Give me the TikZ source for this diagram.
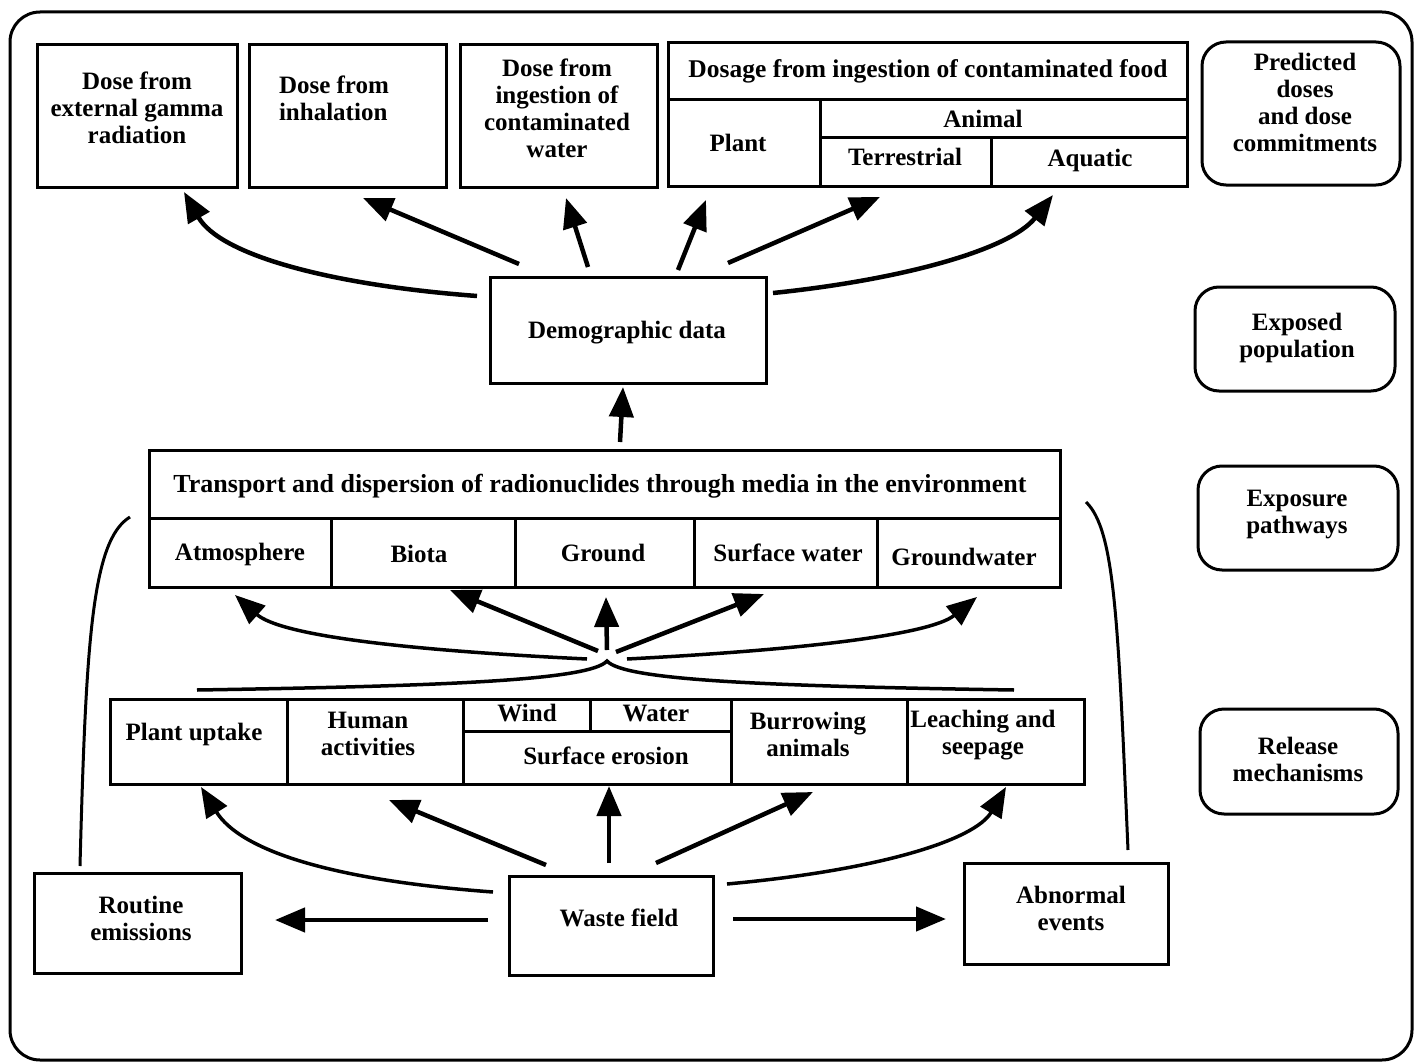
\documentclass[tikz,border=0pt]{standalone}
\usepackage{fontspec}
\setmainfont{Liberation Serif}
\usetikzlibrary{arrows.meta}
\newcommand{\boxat}[6][]{\node[box,#1,minimum width={(#5)-(#3)},minimum height={(#6)-(#4)}] (#2) at ({((#3)+(#5))/2},{((#4)+(#6))/2}) {};}
\begin{document}
\begin{tikzpicture}[x=1pt,y=-1pt,
  box/.style={draw,line width=3pt,inner sep=0pt,outer sep=0pt},
  rbox/.style={rounded corners=24pt},
  lbl/.style={font=\fontsize{25}{27}\selectfont\bfseries,align=center,inner sep=0pt},
  arr/.style={line width=4.5pt,-{Triangle[length=30pt,width=24pt]}},
  ln/.style={line width=3pt}]
\useasboundingbox (0,0) rectangle (1414,1062);
\draw[ln,rounded corners=30pt] (10,12) rectangle (1412,1060);
% top row
\boxat{b1}{37}{45}{237}{187}
\boxat{b2}{249}{45}{446}{187}
\boxat{b3}{460}{45}{657}{187}
\boxat{foodt}{668}{43}{1187}{100}
\boxat{plant}{668}{100}{820}{186}
\boxat{animal}{820}{100}{1187}{138}
\boxat{terr}{820}{138}{991}{186}
\boxat{aqua}{991}{138}{1187}{186}
\boxat[rbox]{pred}{1202}{42}{1400}{185}
\node[lbl] (tb1) at (137,108) {Dose from\\external gamma\\radiation};
\node[lbl,align=left] (tb2) at (334,98) {Dose from\\inhalation};
\node[lbl] (tb3) at (557,108) {Dose from\\ingestion of\\contaminated\\water};
\node[lbl,font=\fontsize{25.5}{27}\selectfont\bfseries] (tfood) at (928,71) {Dosage from ingestion of contaminated food};
\node[lbl] (tplant) at (738,143) {Plant};
\node[lbl] (tanimal) at (983,119) {Animal};
\node[lbl] (tterr) at (905,157) {Terrestrial};
\node[lbl] (taqua) at (1090,160) {Aquatic};
\node[lbl] (tpred) at (1305,102) {Predicted\\doses\\and dose\\commitments};
% demographic
\boxat{demo}{490}{277}{766}{383}
\node[lbl] (tdemo) at (627,333) {Demographic data};
\boxat[rbox]{expo}{1195}{287}{1395}{391}
\node[lbl] (texpo) at (1297,338) {Exposed\\population};
% transport
\boxat{trans}{149}{450}{1060}{518}
\boxat{atm}{149}{518}{331}{587}
\boxat{biota}{331}{518}{515}{587}
\boxat{ground}{515}{518}{694}{587}
\boxat{surf}{694}{518}{877}{587}
\boxat{gw}{877}{518}{1060}{587}
\boxat[rbox]{path}{1198}{466}{1398}{570}
\node[lbl,font=\fontsize{26}{27}\selectfont\bfseries] (ttrans) at (600,486) {Transport and dispersion of radionuclides through media in the environment};
\node[lbl] (tatm) at (240,554) {Atmosphere};
\node[lbl] (tbiota) at (419,554) {Biota};
\node[lbl] (tground) at (603,553) {Ground};
\node[lbl] (tsurf) at (788,553) {Surface water};
\node[lbl] (tgw) at (964,557) {Groundwater};
\node[lbl] (tpath) at (1297,515) {Exposure\\pathways};
% release
\boxat{pu}{110}{699}{287}{784}
\boxat{ha}{287}{699}{463}{784}
\boxat{wind}{463}{699}{590}{731}
\boxat{water}{590}{699}{731}{731}
\boxat{se}{463}{731}{731}{784}
\boxat{ba}{731}{699}{907}{784}
\boxat{ls}{907}{699}{1084}{784}
\boxat[rbox]{rel}{1200}{709}{1398}{814}
\node[lbl] (tpu) at (194,734) {Plant uptake};
\node[lbl] (tha) at (368,734) {Human\\activities};
\node[lbl] (twind) at (527,713) {Wind};
\node[lbl] (twater) at (656,713) {Water};
\node[lbl] (tse) at (606,756) {Surface erosion};
\node[lbl] (tba) at (808,734) {Burrowing\\animals};
\node[lbl] (tls) at (983,735) {Leaching and\\seepage};
\node[lbl] (trel) at (1298,759) {Release\\mechanisms};
% bottom
\boxat{re}{34}{873}{241}{973}
\boxat{wf}{509}{876}{713}{975}
\boxat{ab}{964}{863}{1168}{964}
\node[lbl] (tre) at (141,918) {Routine\\emissions};
\node[lbl] (twf) at (619,918) {Waste field};
\node[lbl] (tab) at (1071,908) {Abnormal\\events};
% connectors: demographic -> doses
\coordinate (a1s) at (477,296); \coordinate (a1e) at (184,192);
\coordinate (a2s) at (519,264); \coordinate (a2e) at (363,198);
\coordinate (a3s) at (588,267); \coordinate (a3e) at (566,198);
\coordinate (a4s) at (678,270); \coordinate (a4e) at (706,200);
\coordinate (a5s) at (728,263); \coordinate (a5e) at (880,197);
\coordinate (a6s) at (773,293); \coordinate (a6e) at (1053,195);
\draw[arr] (a1s) .. controls (330,285) and (220,255) .. (a1e);
\draw[arr] (a2s) -- (a2e);
\draw[arr] (a3s) -- (a3e);
\draw[arr] (a4s) -- (a4e);
\draw[arr] (a5s) -- (a5e);
\draw[arr] (a6s) .. controls (900,280) and (1010,250) .. (a6e);
% transport -> demographic
\coordinate (a7s) at (620,442); \coordinate (a7e) at (623,387);
\draw[arr] (a7s) -- (a7e);
% fan to transport media
\coordinate (f1s) at (587,659); \coordinate (f1e) at (235,595);
\coordinate (f2s) at (598,651); \coordinate (f2e) at (450,590);
\coordinate (f3s) at (607,650); \coordinate (f3e) at (606,597);
\coordinate (f4s) at (616,652); \coordinate (f4e) at (764,594);
\coordinate (f5s) at (627,659); \coordinate (f5e) at (977,597);
\draw[arr,line width=3.5pt] (f1s) .. controls (400,650) and (280,635) .. (f1e);
\draw[arr] (f2s) -- (f2e);
\draw[arr] (f3s) -- (f3e);
\draw[arr] (f4s) -- (f4e);
\draw[arr,line width=3.5pt] (f5s) .. controls (800,650) and (930,635) .. (f5e);
\coordinate (fl) at (197,690); \coordinate (fa) at (607,661); \coordinate (fr) at (1014,690);
\draw[line width=3.5pt] (fl) .. controls (450,686) and (590,680) .. (fa) .. controls (624,680) and (760,686) .. (fr);
% waste field -> release mechanisms
\coordinate (g1s) at (493,892); \coordinate (g1e) at (201,787);
\coordinate (g2s) at (546,865); \coordinate (g2e) at (389,800);
\coordinate (g3s) at (609,863); \coordinate (g3e) at (609,786);
\coordinate (g4s) at (656,863); \coordinate (g4e) at (813,792);
\coordinate (g5s) at (727,884); \coordinate (g5e) at (1006,787);
\coordinate (g6s) at (488,920); \coordinate (g6e) at (275,920);
\coordinate (g7s) at (733,919); \coordinate (g7e) at (946,919);
\draw[arr,line width=3.5pt] (g1s) .. controls (330,880) and (240,850) .. (g1e);
\draw[arr] (g2s) -- (g2e);
\draw[arr] (g3s) -- (g3e);
\draw[arr] (g4s) -- (g4e);
\draw[arr,line width=3.5pt] (g5s) .. controls (880,870) and (975,840) .. (g5e);
\draw[arr] (g6s) -- (g6e);
\draw[arr] (g7s) -- (g7e);
% side curves
\coordinate (ls0) at (80,866); \coordinate (ls1) at (130,517);
\coordinate (rs0) at (1128,850); \coordinate (rs1) at (1086,502);
\draw[ln] (ls0) .. controls (86,640) and (92,540) .. (ls1);
\draw[ln] (rs0) .. controls (1118,620) and (1115,530) .. (rs1);
\end{tikzpicture}
\end{document}
